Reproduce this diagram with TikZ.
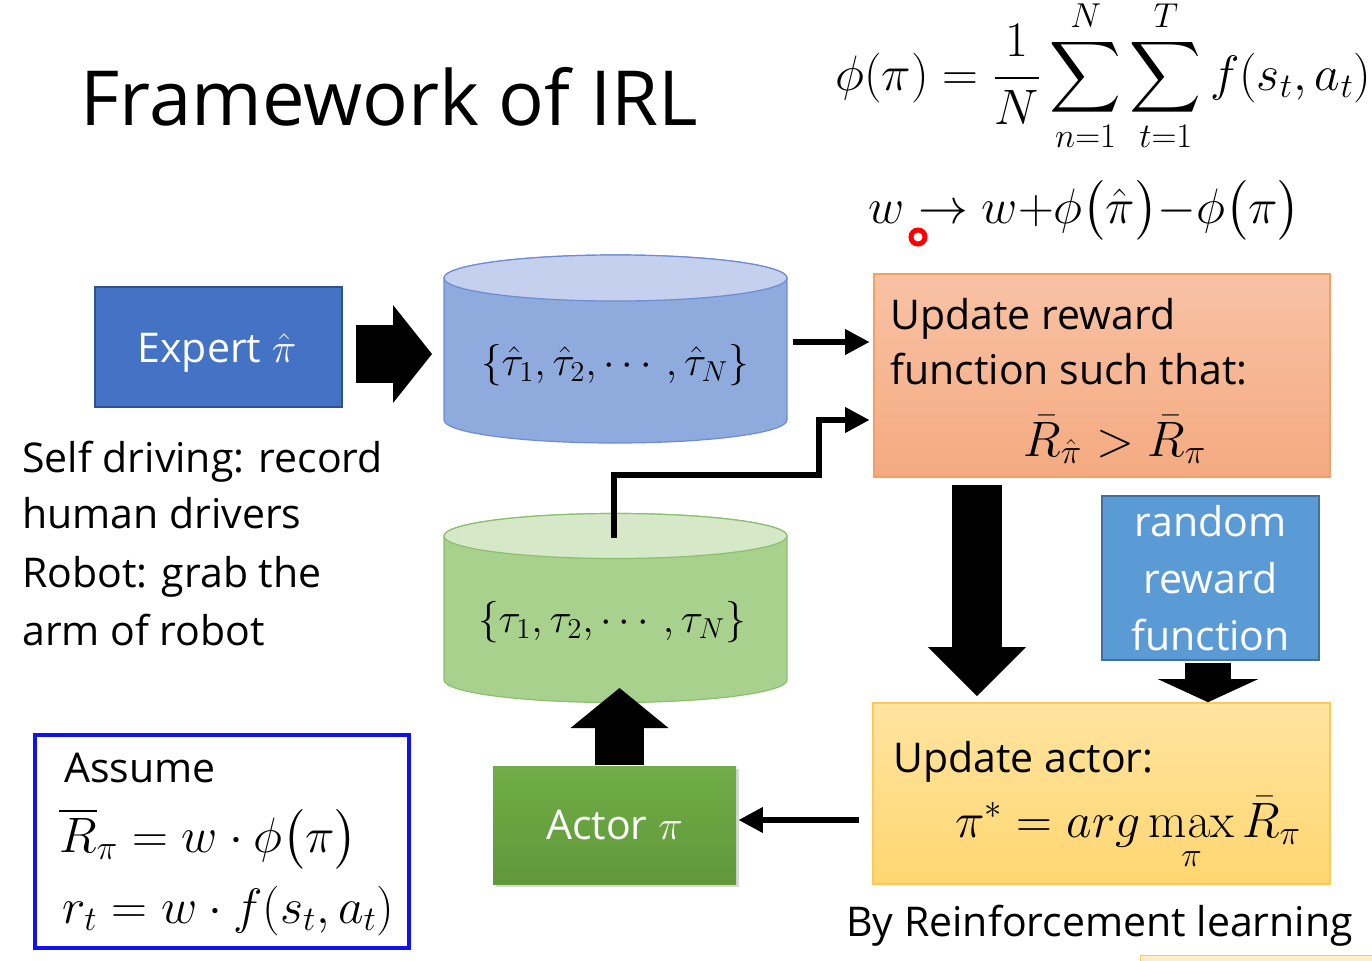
\documentclass[tikz,border=0pt]{standalone}
\usepackage[no-math]{fontspec}
\setmainfont{Open Sans}
\usepackage{amsmath}
\usetikzlibrary{arrows.meta,calc,shadows}

\definecolor{expblue}{RGB}{68,114,196}
\definecolor{expblueedge}{RGB}{47,82,143}
\definecolor{cylblue}{RGB}{143,170,220}
\definecolor{cylbluetop}{RGB}{197,208,238}
\definecolor{cylblueedge}{RGB}{110,140,210}
\definecolor{cylgreen}{RGB}{169,209,142}
\definecolor{cylgreentop}{RGB}{213,232,200}
\definecolor{cylgreenedge}{RGB}{140,190,110}
\definecolor{orangetop}{RGB}{248,194,165}
\definecolor{orangebottom}{RGB}{244,170,128}
\definecolor{orangeedge}{RGB}{244,160,100}
\definecolor{yellowtop}{RGB}{255,228,160}
\definecolor{yellowbottom}{RGB}{255,214,112}
\definecolor{yellowedge}{RGB}{255,200,90}
\definecolor{rndblue}{RGB}{91,155,213}
\definecolor{rndblueedge}{RGB}{65,113,156}
\definecolor{actortop}{RGB}{112,173,71}
\definecolor{actorbottom}{RGB}{96,152,58}
\definecolor{assumeblue}{RGB}{16,16,240}

\begin{document}
\begin{tikzpicture}[x=0.5pt,y=-0.5pt,
box/.style={rectangle, inner sep=0pt, line width=0.8pt},
textline/.style={font=\fontsize{20.5}{29.5}\selectfont, inner sep=0pt},
mathline/.style={font=\fontsize{24}{28}\selectfont, inner sep=0pt},
thinarrow/.style={line width=3pt, line join=miter, -{Triangle[length=12pt,width=13pt,line width=0pt]}},
bigarrow/.style n args={3}{line width=#1, -{Triangle[length=#2,width=#3,line width=0pt]}},
]
\useasboundingbox (0,0) rectangle (1372,960);
\fill[white] (0,0) rectangle (1372,960);

\node[anchor=base west, inner sep=0pt, font=\fontsize{38}{44}\selectfont] (title) at (80,125) {Framework of IRL};

\node[mathline, font=\fontsize{25}{30}\selectfont, anchor=base west] (phiformula) at (835,90) {$\displaystyle\phi(\pi)=\frac{1}{N}\sum_{n=1}^{N}\sum_{t=1}^{T}f(s_t,a_t)$};
\node[mathline, anchor=base west] (wformula) at (868,223) {$w\rightarrow w{+}\phi\bigl(\hat{\pi}\bigr){-}\phi\bigl(\pi\bigr)$};
\node[circle, draw=red, fill=white, line width=2.5pt, minimum size=7pt, inner sep=0pt] (pointer) at (918,237) {};

\node[box, fill=expblue, draw=expblueedge, minimum width=123.5pt, minimum height=60pt] (expert) at (218.5,347) {};
\node[textline, text=white, anchor=base] (experttext) at (217,362) {Expert $\hat{\pi}$};

\filldraw[fill=cylblue, draw=cylblueedge, line width=0.6pt] (444,278) -- (444,420) arc[start angle=180, end angle=360, x radius=85.75pt, y radius=11.5pt] -- (787,278) arc[start angle=0, end angle=180, x radius=85.75pt, y radius=11.5pt] -- cycle;
\filldraw[fill=cylbluetop, draw=cylblueedge, line width=0.6pt] (615.5,278) ellipse[x radius=85.75pt, y radius=11.5pt];
\node[mathline, font=\fontsize{22}{26}\selectfont] (expdata) at (615,365) {$\{\hat{\tau}_1,\hat{\tau}_2,\cdots,\hat{\tau}_N\}$};

\filldraw[fill=cylgreen, draw=cylgreenedge, line width=0.6pt] (444,536) -- (444,680) arc[start angle=180, end angle=360, x radius=85.75pt, y radius=11.25pt] -- (787,536) arc[start angle=0, end angle=180, x radius=85.75pt, y radius=11.25pt] -- cycle;
\filldraw[fill=cylgreentop, draw=cylgreenedge, line width=0.6pt] (615.5,536) ellipse[x radius=85.75pt, y radius=11.25pt];
\node[mathline, font=\fontsize{22}{26}\selectfont] (gendata) at (612,622) {$\{\tau_1,\tau_2,\cdots,\tau_N\}$};

\node[box, top color=orangetop, bottom color=orangebottom, draw=orangeedge, minimum width=228pt, minimum height=101.5pt] (rew) at (1102,375.5) {};
\node[textline, anchor=base west] (rewtext1) at (890,329) {Update reward};
\node[textline, anchor=base west] (rewtext2) at (890,384) {function such that:};
\node[mathline] (rewformula) at (1115,440) {$\bar{R}_{\hat{\pi}} > \bar{R}_{\pi}$};

\node[box, fill=rndblue, draw=rndblueedge, text=white, align=center, font=\fontsize{20.5}{28.5}\selectfont, minimum width=108.5pt, minimum height=82pt] (rnd) at (1210.5,578) {random\\reward\\function};

\node[box, top color=yellowtop, bottom color=yellowbottom, draw=yellowedge, minimum width=228.5pt, minimum height=90.5pt] (act) at (1101.5,793.5) {};
\node[textline, anchor=base west] (acttext) at (893,772) {Update actor:};
\node[mathline, anchor=base west] (actformula) at (955,837) {$\pi^{*} = arg\max\limits_{\pi}\bar{R}_{\pi}$};
\node[textline, anchor=base west] (rltext) at (846,936) {By Reinforcement learning};

\node[box, top color=actortop, bottom color=actorbottom, text=white, font=\fontsize{20.5}{29.5}\selectfont, minimum width=121.5pt, minimum height=59pt, drop shadow={shadow xshift=1.5pt, shadow yshift=-1.5pt, opacity=0.3}] (actor) at (614.5,825) {Actor $\pi$};

\node[textline, anchor=base west] (self1) at (22,472) {Self driving: record};
\node[textline, anchor=base west] (self2) at (22,528) {human drivers};
\node[textline, anchor=base west] (robot1) at (22,587) {Robot: grab the};
\node[textline, anchor=base west] (robot2) at (22,645) {arm of robot};

\node[box, draw=assumeblue, line width=2pt, minimum width=187pt, minimum height=106.5pt] (assume) at (222,841.5) {};
\node[textline, anchor=base west] (assumetext) at (64,782) {Assume};
\node[mathline, anchor=base west] (assume1) at (59,852) {$\overline{R}_{\pi} = w\cdot\phi\bigl(\pi\bigr)$};
\node[mathline, anchor=base west] (assume2) at (62,923) {$r_t = w\cdot f(s_t,a_t)$};

\draw[fill=yellowtop!60, draw=yellowedge] (1140,955) rectangle (1400,1000);

\draw[bigarrow={29pt}{19.5pt}{49pt}] ($(expert.east)+(13,7)$) -- ($(expdata.center)+(-183,-11)$);
\draw[thinarrow] ($(expdata.center)+(178,-23)$) -- ($(rew.west)+(-4,-33.5)$);
\draw[thinarrow] ($(gendata.center)+(2,-84)$) |- ($(rew.west)+(-54,99.5)$) |- ($(rew.west)+(-4,44.5)$);
\draw[bigarrow={25pt}{24.5pt}{49pt}] ($(rew.south)+(-125,7)$) -- ($(act.north)+(-124.5,-6)$);
\draw[bigarrow={23pt}{11.5pt}{50pt}] ($(rnd.south)+(-2.5,2)$) -- ($(act.north)+(106.5,0)$);
\draw[thinarrow] ($(act.west)+(-13,26.5)$) -- ($(actor.east)+(2,-5)$);
\draw[bigarrow={24.5pt}{20pt}{49pt}] ($(actor.north)+(5,0)$) -- ($(gendata.center)+(7.5,66)$);

\end{tikzpicture}
\end{document}
